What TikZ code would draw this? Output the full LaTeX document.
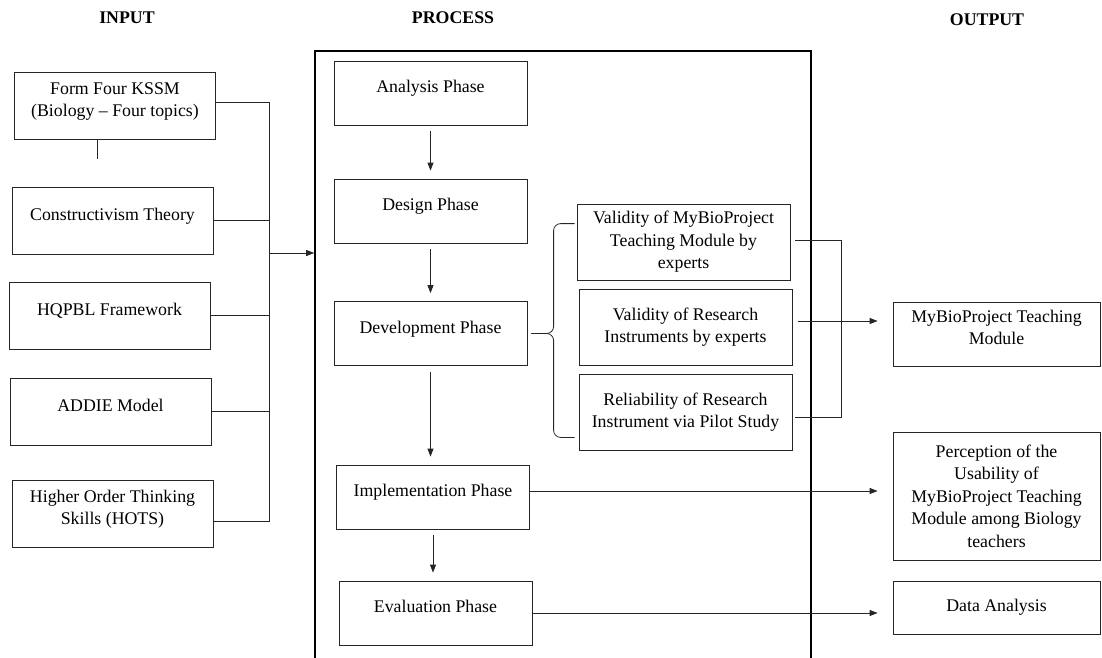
\documentclass[tikz,border=0pt]{standalone}
\usepackage{fontspec}
\setmainfont{Liberation Serif}
\usetikzlibrary{calc}
\usetikzlibrary{arrows.meta}

\begin{document}
\begin{tikzpicture}[x=1pt, y=-1pt,
  font=\fontsize{17.8}{22.5}\selectfont,
  >={Triangle[length=8pt,width=6pt]},
  wire/.style={line width=0.8pt, draw=black!85},
  box/.style={wire, shape=rectangle, inner sep=2pt, align=center},
  inbox/.style={box, minimum width=201pt, minimum height=67pt},
  phase/.style={box, minimum width=193pt, minimum height=64pt},
  checkbox/.style={box, minimum width=213pt, minimum height=76pt},
  outbox/.style={box, minimum width=207pt},
  lift/.style={text depth=13pt},
  heading/.style={font=\fontsize{17.8}{22.5}\selectfont\bfseries},
  flow/.style={wire, ->, shorten <=6pt, shorten >=8pt},
  link/.style={wire, ->, shorten >=15pt}]
  \useasboundingbox (0,0) rectangle (1102,657);
  \node [heading] (input) at (127,18) {INPUT};
  \node [heading] (process) at (453,18) {PROCESS};
  \node [heading] (output) at (987,20) {OUTPUT};
  \node [draw, line width=1.6pt, minimum width=496pt, minimum height=649pt, inner sep=0] (proc) at (563,375.5) {};

  \node [inbox, lift] (kssm) at (115,106) {Form Four KSSM\\(Biology – Four topics)};
  \node [inbox, lift] (constr) at (112.5,220.5) {Constructivism Theory};
  \node [inbox, lift] (hqpbl) at (109.5,315.5) {HQPBL Framework};
  \node [inbox, lift] (addie) at (110.5,411.5) {ADDIE Model};
  \node [inbox, lift] (hots) at (112.5,514) {Higher Order Thinking\\Skills (HOTS)};

  \node [phase, lift] (analysis) at (430.5,93) {Analysis Phase};
  \node [phase, lift] (design) at (430.5,211) {Design Phase};
  \node [phase, lift] (develop) at (430.5,333.5) {Development Phase};
  \node [phase, lift] (implement) at (433,497) {Implementation Phase};
  \node [phase, lift] (evaluate) at (435.5,613) {Evaluation Phase};

  \node [checkbox] (valmod) at (683.5,242) {Validity of MyBioProject\\Teaching Module by\\experts};
  \node [checkbox] (valins) at (685.5,327) {Validity of Research\\Instruments by experts};
  \node [checkbox] (reliab) at (685.5,412) {Reliability of Research\\Instrument via Pilot Study};

  \node [outbox, minimum height=64pt, lift] (module) at (996.5,334) {MyBioProject Teaching\\Module};
  \node [outbox, minimum height=128pt] (usability) at (996.5,496) {Perception of the\\Usability of\\MyBioProject Teaching\\Module among Biology\\teachers};
  \node [outbox, minimum height=53pt] (dataan) at (996.5,607.5) {Data Analysis};

  \coordinate (busmid) at (269,253);
  \coordinate (busbot) at (269,521);
  \draw [wire] ([yshift=4pt]kssm.east) -| (busbot) -- ([yshift=-7pt]hots.east);
  \draw [wire] (constr.east) -- (constr.east -| busmid);
  \draw [wire] (hqpbl.east) -- (hqpbl.east -| busmid);
  \draw [wire] (addie.east) -- (addie.east -| busmid);
  \draw [wire] ([xshift=-18pt]kssm.south) -- ++(0,19);
  \draw [wire, ->] (busmid) -- (busmid -| proc.west);

  \draw [flow] (analysis) -- (design);
  \draw [flow] (design) -- (develop);
  \draw [flow] (develop.south) -- (develop.south |- implement.north);
  \draw [flow] (implement.south) -- (implement.south |- evaluate.north);

  \draw [wire, rounded corners=7pt] ([shift={(-2pt,-20pt)}]valmod.north west) -- ++(-21,0) |- ([xshift=4pt]develop.east);
  \draw [wire, rounded corners=7pt] ([shift={(-4pt,13pt)}]reliab.south west) -- ++(-21,0) |- ([xshift=4pt]develop.east);

  \coordinate (rtop) at (841,240);
  \coordinate (rbot) at (841,417);
  \draw [wire, shorten <=5pt, shorten >=3pt] (valmod.east |- rtop) -- (rtop) -- (rbot) -- (reliab.east |- rbot);
  \draw [link, shorten <=6pt] ([yshift=6pt]valins.east) -- ([yshift=6pt]valins.east -| module.west);
  \draw [link] ([yshift=6pt]implement.east) -- ([yshift=6pt]implement.east -| usability.west);
  \draw [link] (evaluate.east) -- (evaluate.east -| dataan.west);
\end{tikzpicture}
\end{document}
